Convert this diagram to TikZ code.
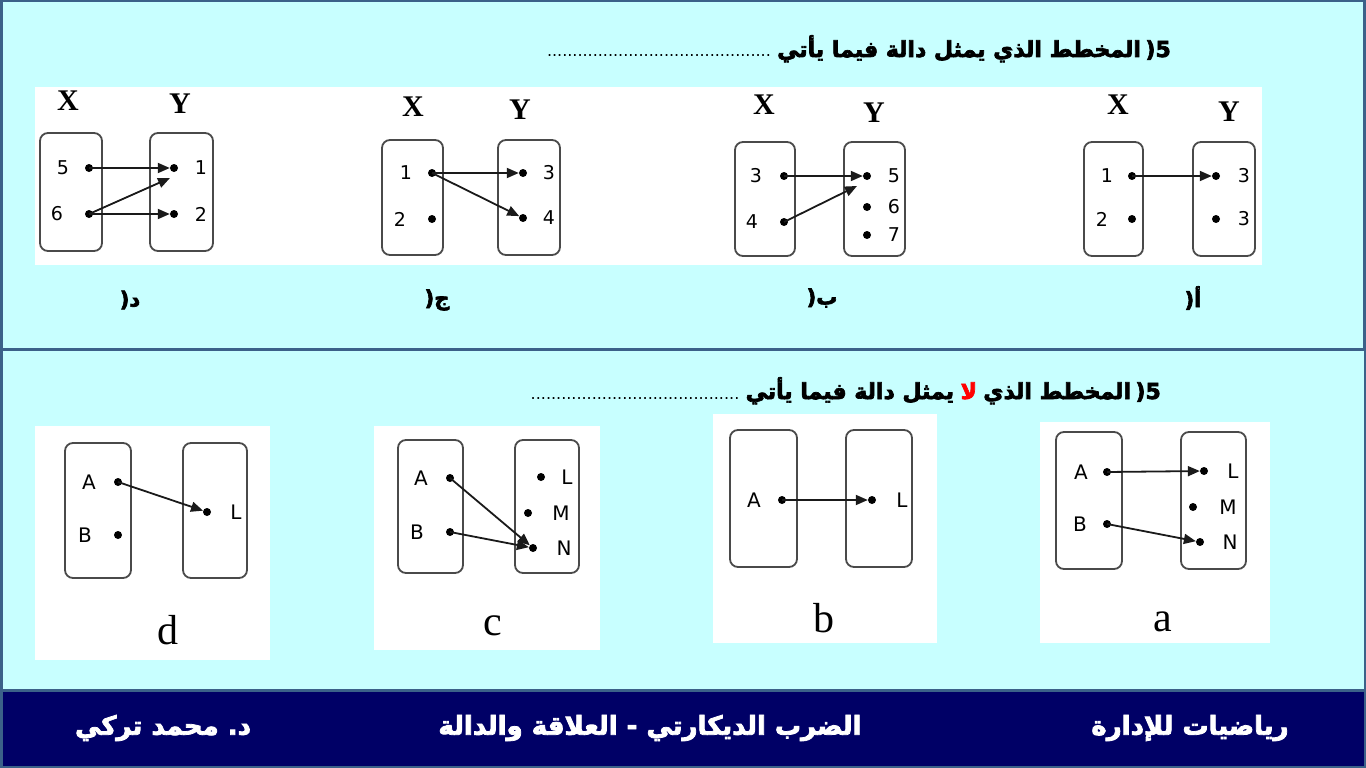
\documentclass[tikz,border=0pt]{standalone}
\usepackage{fontspec}
\usetikzlibrary{arrows.meta,calc}
\TeXXeTstate=1
\newfontfamily\arabicfont[Script=Arabic,FakeBold=3]{DejaVu Sans Bold}
\newfontfamily\numfont{DejaVu Sans}
\newfontfamily\serifx{Liberation Serif}
\definecolor{bgcyan}{HTML}{C8FFFF}
\definecolor{frameblue}{HTML}{3B6189}
\definecolor{footnavy}{HTML}{000066}
\definecolor{boxgray}{HTML}{4A4A4A}
\definecolor{arrowdark}{HTML}{1A1A1A}
\begin{document}
\begin{tikzpicture}[x=1pt,y=-1pt,
  setbox/.style={draw=boxgray,line width=1.8pt,rounded corners=8pt,inner sep=0pt},
  pt/.style={circle,fill=black,inner sep=0pt,minimum size=8pt},
  num/.style={font=\numfont\fontsize{19}{19}\selectfont,inner sep=0pt},
  lett/.style={font=\numfont\fontsize{20}{20}\selectfont,inner sep=0pt},
  xy/.style={font=\serifx\bfseries\fontsize{30}{30}\selectfont,inner sep=0pt},
  plab/.style={font=\serifx\fontsize{42}{42}\selectfont,inner sep=0pt},
  arlab/.style={font=\arabicfont\fontsize{21}{21}\selectfont,inner sep=0pt},
  head/.style={font=\arabicfont\fontsize{22}{22}\selectfont,inner sep=0pt,anchor=base east},
  dotsline/.style={font=\numfont\fontsize{16}{16}\selectfont,inner sep=0pt,anchor=base east},
  foot/.style={font=\arabicfont\fontsize{26}{26}\selectfont,text=white,inner sep=0pt},
  arr/.style={draw=arrowdark,line width=1.8pt,-{Triangle[length=12pt,width=10pt]}},
  panel/.style={fill=white,draw=none}
]
\useasboundingbox (0,0) rectangle (1366,768);
% frame and backgrounds
\fill[frameblue] (0,0) rectangle (1366,768);
\fill[bgcyan] (3,2) rectangle (1363,348);
\fill[bgcyan] (3,351) rectangle (1364,689);
\fill[footnavy] (3,692) rectangle (1364,766);

% ===== Section 1 header =====
\node[head] (h1num) at (1171,57) {\hbox{(}\hbox{5}};
\node[head] (h1txt) at ($(h1num.base west)+(-4,0)$) {\beginR المخطط الذي يمثل دالة فيما يأتي\endR};
\node[dotsline] (h1dots) at ($(h1txt.base west)+(-6,0)$) {............................................};

% top white panel
\fill[panel] (35,87) rectangle (1262,265);

% ---- diagram د ----
\node[xy] (dXl) at (68,101) {X};
\node[xy] (dYl) at (180,104) {Y};
\node[setbox,minimum width=62pt,minimum height=118pt] (dXb) at (71,192) {};
\node[setbox,minimum width=63pt,minimum height=118pt] (dYb) at (181.5,192) {};
\node[pt] (d5) at (89,168) {};
\node[pt] (d6) at (89,214) {};
\node[pt] (d1) at (174,168) {};
\node[pt] (d2) at (174,214) {};
\node[num] at (63,168) {5};
\node[num] at (57,214) {6};
\node[num] at (201,168) {1};
\node[num] at (201,214) {2};
\coordinate (d1b) at (170,178);
\draw[arr] (d5.center) -- (d1);
\draw[arr] (d6.center) -- (d1b);
\draw[arr] (d6.center) -- (d2);

% ---- diagram ج ----
\node[xy] (cXl) at (413,107) {X};
\node[xy] (cYl) at (520,110) {Y};
\node[setbox,minimum width=61pt,minimum height=115pt] (cXb) at (412.5,197.5) {};
\node[setbox,minimum width=62pt,minimum height=115pt] (cYb) at (529,197.5) {};
\node[pt] (c1) at (432,173) {};
\node[pt] (c2) at (432,219) {};
\node[pt] (c3) at (523,173) {};
\node[pt] (c4) at (523,218) {};
\node[num] at (406,173) {1};
\node[num] at (400,219) {2};
\node[num] at (549,173) {3};
\node[num] at (549,218) {4};
\draw[arr] (c1.center) -- (c3);
\draw[arr] (c1.center) -- (c4);

% ---- diagram ب ----
\node[xy] (bXl) at (764,105) {X};
\node[xy] (bYl) at (874,113) {Y};
\node[setbox,minimum width=60pt,minimum height=114pt] (bXb) at (765,199) {};
\node[setbox,minimum width=61pt,minimum height=114pt] (bYb) at (874.5,199) {};
\node[pt] (b3) at (784,176) {};
\node[pt] (b4) at (784,222) {};
\node[pt] (b5) at (867,176) {};
\node[pt] (b6) at (867,207) {};
\node[pt] (b7) at (867,235) {};
\node[num] at (756,176) {3};
\node[num] at (752,222) {4};
\node[num] at (894,176) {5};
\node[num] at (894,207) {6};
\node[num] at (894,235) {7};
\coordinate (b5b) at (857,186);
\draw[arr] (b3.center) -- (b5);
\draw[arr] (b4.center) -- (b5b);

% ---- diagram أ ----
\node[xy] (aXl) at (1118,105) {X};
\node[xy] (aYl) at (1229,112) {Y};
\node[setbox,minimum width=59pt,minimum height=114pt] (aXb) at (1113.5,199) {};
\node[setbox,minimum width=62pt,minimum height=114pt] (aYb) at (1224,199) {};
\node[pt] (a1) at (1132,176) {};
\node[pt] (a2) at (1132,219) {};
\node[pt] (a3) at (1216,176) {};
\node[pt] (a3b) at (1216,219) {};
\node[num] at (1107,176) {1};
\node[num] at (1102,219) {2};
\node[num] at (1244,176) {3};
\node[num] at (1244,219) {3};
\draw[arr] (a1.center) -- (a3);

% top labels
\node[arlab] (labD) at (130,300) {\hbox{(}\hbox{د}};
\node[arlab] (labJ) at (437,300) {\hbox{(}\hbox{ج}};
\node[arlab] (labB) at (822,298) {\hbox{(}\hbox{ب}};
\node[arlab] (labA) at (1193,298) {\hbox{(}\hbox{أ}};

% ===== Section 2 header =====
\node[head] (h2num) at (1161,399) {\hbox{(}\hbox{5}};
\node[head] (h2a) at ($(h2num.base west)+(-4,0)$) {\beginR المخطط الذي\endR};
\node[head,text=red] (h2red) at ($(h2a.base west)+(-6,0)$) {\beginR لا\endR};
\node[head] (h2b) at ($(h2red.base west)+(-6,0)$) {\beginR يمثل دالة فيما يأتي\endR};
\node[dotsline] (h2dots) at ($(h2b.base west)+(-6,0)$) {.........................................};

% bottom white panels
\fill[panel] (35,426) rectangle (270,660);
\fill[panel] (374,426) rectangle (600,650);
\fill[panel] (713,414) rectangle (937,643);
\fill[panel] (1040,422) rectangle (1270,643);

% ---- panel d ----
\node[setbox,minimum width=66pt,minimum height=135pt] (pdX) at (98,510.5) {};
\node[setbox,minimum width=64pt,minimum height=135pt] (pdY) at (215,510.5) {};
\node[pt] (pdA) at (118,482) {};
\node[pt] (pdB) at (118,535) {};
\node[pt] (pdL) at (207,512) {};
\node[lett] at (89,482) {A};
\node[lett] at (85,535) {B};
\node[lett] at (236,512) {L};
\draw[arr] (pdA.center) -- (pdL);
\node[plab] (pdlab) at (168,630) {d};

% ---- panel c ----
\node[setbox,minimum width=65pt,minimum height=133pt] (pcX) at (430.5,506.5) {};
\node[setbox,minimum width=64pt,minimum height=133pt] (pcY) at (547,506.5) {};
\node[pt] (pcA) at (450,478) {};
\node[pt] (pcB) at (450,532) {};
\node[pt] (pcL) at (541,477) {};
\node[pt] (pcM) at (528,513) {};
\node[pt] (pcN) at (533,548) {};
\node[lett] at (421,478) {A};
\node[lett] at (417,532) {B};
\node[lett] at (567,477) {L};
\node[lett] at (561,513) {M};
\node[lett] at (564,548) {N};
\draw[arr] (pcA.center) -- (pcN);
\draw[arr] (pcB.center) -- (pcN);
\node[plab] (pclab) at (493,626) {c};

% ---- panel b ----
\node[setbox,minimum width=67pt,minimum height=137pt] (pbX) at (763.5,498.5) {};
\node[setbox,minimum width=66pt,minimum height=137pt] (pbY) at (879,498.5) {};
\node[pt] (pbA) at (782,500) {};
\node[pt] (pbL) at (872,500) {};
\node[lett] at (754,500) {A};
\node[lett] at (902,500) {L};
\draw[arr] (pbA.center) -- (pbL);
\node[plab] (pblab) at (824,618) {b};

% ---- panel a ----
\node[setbox,minimum width=66pt,minimum height=137pt] (paX) at (1089,500.5) {};
\node[setbox,minimum width=65pt,minimum height=137pt] (paY) at (1213.5,500.5) {};
\node[pt] (paA) at (1107,472) {};
\node[pt] (paB) at (1107,524) {};
\node[pt] (paL) at (1204,471) {};
\node[pt] (paM) at (1193,507) {};
\node[pt] (paN) at (1200,542) {};
\node[lett] at (1081,472) {A};
\node[lett] at (1080,524) {B};
\node[lett] at (1233,471) {L};
\node[lett] at (1228,507) {M};
\node[lett] at (1230,542) {N};
\draw[arr] (paA.center) -- (paL);
\draw[arr] (paB.center) -- (paN);
\node[plab] (palab) at (1163,622) {a};

% ===== footer =====
\node[foot] (f1) at (1190,728) {\beginR رياضيات للإدارة\endR};
\node[foot] (f2) at (650,728) {\beginR الضرب الديكارتي - العلاقة والدالة\endR};
\node[foot] (f3) at (163,728) {\beginR محمد تركي\endR\ \hbox{.}\hbox{د}};
\end{tikzpicture}
\end{document}
